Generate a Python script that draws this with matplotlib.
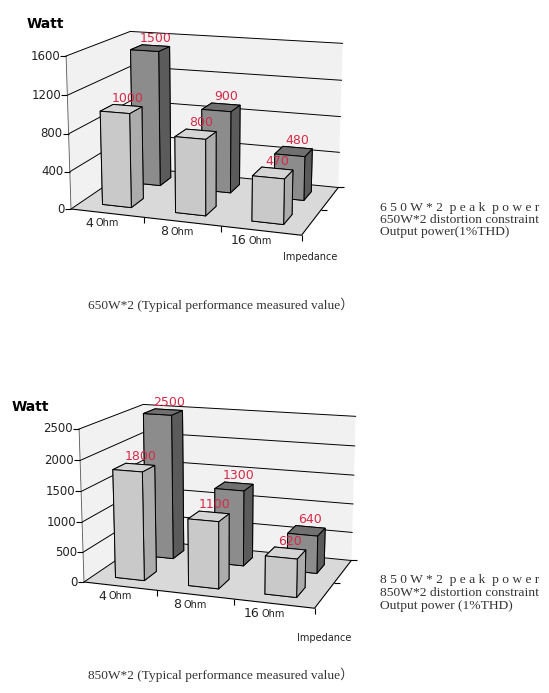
import matplotlib
matplotlib.use('Agg')
import matplotlib.pyplot as plt
from mpl_toolkits.mplot3d import proj3d
from mpl_toolkits.mplot3d.art3d import Poly3DCollection

# data
impedance = ['4', '8', '16']
peak_650 = [1500, 900, 480]
rated_650 = [1000, 800, 470]
ticks_650 = [0, 400, 800, 1200, 1600]
peak_850 = [2500, 1300, 640]
rated_850 = [1800, 1100, 620]
ticks_850 = [0, 500, 1000, 1500, 2000, 2500]

RED = '#d42a48'
INK = '#222222'
# face colours in bar3d order: bottom, top, front, back, left, right
LIGHT = ['#c9c9c9', '#d5d5d5', '#c9c9c9', '#c9c9c9', '#c9c9c9', '#acacac']
DARK = ['#8c8c8c', '#707070', '#8c8c8c', '#8c8c8c', '#8c8c8c', '#5b5b5b']
W = 549
H = 693

fig = plt.figure(figsize=(W / 100, H / 100), dpi=100)


def px(x, y):
    return x / W, 1 - y / H


def proj(ax, x, y, z):
    xs, ys, _ = proj3d.proj_transform(x, y, z, ax.get_proj())
    return xs, ys


def chart(corner, axis_px, rated, peak, ticks):
    ax = fig.add_axes([0.1, 0.1, 0.6, 0.6 * W / H], projection='3d',
                      computed_zorder=False)
    ax.set_axis_off()
    ax.set_proj_type('persp', focal_length=0.65)
    ax.view_init(elev=14, azim=-71)
    zmax = ticks[-1]
    ax.set_xlim(0, 3)
    ax.set_ylim(0, 2)
    ax.set_zlim(0, zmax)
    ax.set_box_aspect((1.68, 1.12, 1.1))

    # walls and floor
    walls = Poly3DCollection([[(0, 2, 0), (3, 2, 0), (3, 2, zmax), (0, 2, zmax)],
                              [(0, 0, 0), (0, 2, 0), (0, 2, zmax), (0, 0, zmax)]],
                             facecolors='#f1f1f1', edgecolors='none', zorder=0)
    ax.add_collection3d(walls)
    floor = Poly3DCollection([[(0, 0, 0), (3, 0, 0), (3, 2, 0), (0, 2, 0)]],
                             facecolors='#d9d9d9', edgecolors='none', zorder=0)
    ax.add_collection3d(floor)

    for t in ticks:
        ax.plot([0, 0, 3], [0, 2, 2], [t, t, t], color='k', lw=0.7, zorder=1)
    ax.plot([0, 3, 3], [0, 0, 2], [0, 0, 0], color='k', lw=0.8, zorder=1)
    ax.plot([0, 0], [0, 0], [0, zmax], color='#555555', lw=0.6, zorder=1)
    ax.plot([0] * len(ticks), [0] * len(ticks), ticks, ls='none',
            marker=0, ms=4, mew=0.8, color='k', zorder=1)
    ax.plot([1, 2, 3], [0, 0, 0], [0, 0, 0], ls='none',
            marker=3, ms=4, mew=0.8, color='k', zorder=1)
    ax.plot([3, 3], [1, 2], [0, 0], ls='none',
            marker=1, ms=4, mew=0.8, color='k', zorder=1)

    # bars: back series (peak) first, then front series
    w = 0.4
    for i, v in enumerate(peak):
        ax.bar3d(i + 0.5 - w / 2, 1.5 - w / 2, 0, w, w, v, color=DARK,
                 edgecolor='k', linewidth=0.7, shade=False, zorder=2 + i)
    for i, v in enumerate(rated):
        ax.bar3d(i + 0.5 - w / 2, 0.5 - w / 2, 0, w, w, v, color=LIGHT,
                 edgecolor='k', linewidth=0.7, shade=False, zorder=6 + i)

    # labels, placed at projected points
    def note(s, x, y, z, dx, dy, **kw):
        ax.annotate(s, proj(ax, x, y, z), xycoords='data', xytext=(dx, dy),
                    textcoords='offset pixels', zorder=20, **kw)

    for series, depth in ((peak, 1.5), (rated, 0.5)):
        for i, v in enumerate(series):
            note(str(v), i + 0.5, depth + w / 2, v, 0, 1, ha='center',
                 va='bottom', color=RED, fontsize=9)
    for t in ticks:
        note(str(t), 0, 0, t, -6, 0, ha='right', va='center', fontsize=8.5,
             color=INK)
    for i, s in enumerate(impedance):
        note(s, i + 0.5, 0, 0, -14, -10, ha='right', va='center', fontsize=9,
             color=INK)
        note('Ohm', i + 0.5, 0, 0, -12, -10, ha='left', va='center',
             fontsize=7, color=INK)

    # move and scale the axes so the floor corner and axis height line up
    fig.canvas.draw()
    p0 = ax.transData.transform(proj(ax, 0, 0, 0))
    p1 = ax.transData.transform(proj(ax, 0, 0, zmax))
    k = axis_px / (p1[1] - p0[1])
    bb = ax.get_position()
    cx = (bb.x0 + bb.width / 2) * W
    cy = (bb.y0 + bb.height / 2) * H
    tx = corner[0] - (cx + k * (p0[0] - cx))
    ty = (H - corner[1]) - (cy + k * (p0[1] - cy))
    w_px = bb.width * W * k
    h_px = bb.height * H * k
    ax.set_position([(cx + tx - w_px / 2) / W, (cy + ty - h_px / 2) / H,
                     w_px / W, h_px / H])
    return ax


serif = ['Liberation Serif', 'Noto Sans CJK SC']
grey = '#333333'

chart((71, 209), 153, rated_650, peak_650, ticks_650)
fig.text(*px(27, 24), 'Watt', fontsize=10, fontweight='bold', va='center')
fig.text(*px(283, 257), 'Impedance', fontsize=7, va='center', color=INK)
fig.text(*px(380, 208), '6 5 0 W * 2  p e a k  p o w e r', fontsize=9.7,
         family=serif, va='center', color=grey)
fig.text(*px(380, 220), '650W*2 distortion constraint', fontsize=9.7,
         family=serif, va='center', color=grey)
fig.text(*px(380, 232), 'Output power(1%THD)', fontsize=9.7,
         family=serif, va='center', color=grey)
fig.text(*px(88, 305), '650W*2 (Typical performance measured value\uff09',
         fontsize=9.6, family=serif, va='center', color=grey)

chart((84, 582), 153, rated_850, peak_850, ticks_850)
fig.text(*px(12, 407), 'Watt', fontsize=10, fontweight='bold', va='center')
fig.text(*px(297, 638), 'Impedance', fontsize=7, va='center', color=INK)
fig.text(*px(380, 580), '8 5 0 W * 2  p e a k  p o w e r', fontsize=9.7,
         family=serif, va='center', color=grey)
fig.text(*px(380, 593), '850W*2 distortion constraint', fontsize=9.7,
         family=serif, va='center', color=grey)
fig.text(*px(380, 606), 'Output power (1%THD)', fontsize=9.7,
         family=serif, va='center', color=grey)
fig.text(*px(88, 675), '850W*2 (Typical performance measured value\uff09',
         fontsize=9.6, family=serif, va='center', color=grey)

fig.savefig('out.png', dpi=100)
